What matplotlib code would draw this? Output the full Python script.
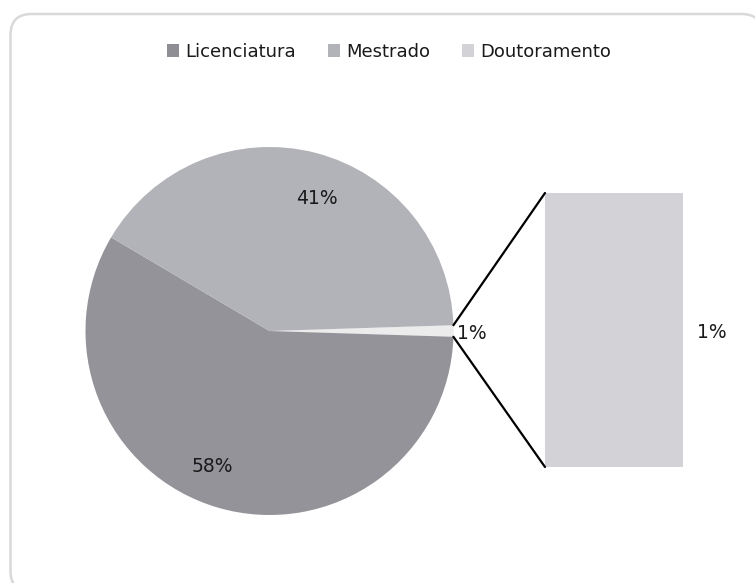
import matplotlib
matplotlib.use("Agg")
import matplotlib.pyplot as plt
from matplotlib.patches import FancyBboxPatch, ConnectionPatch, Patch
import numpy as np

plt.rcParams['font.family'] = ['DejaVu Sans']

# Data
categories = ["Licenciatura", "Mestrado", "Doutoramento"]
values = [58, 41, 1]
pie_colors = ["#939399", "#b2b2b9", "#ececec"]
legend_colors = ["#8e8e94", "#b2b2b9", "#d2d2d7"]
bar_color = "#d2d2d7"

W, H = 755, 583
fig = plt.figure(figsize=(W / 100, H / 100), dpi=100)

def px_axes(x0, y0, x1, y1):
    return fig.add_axes([x0 / W, 1 - y1 / H, (x1 - x0) / W, (y1 - y0) / H])

# Outer rounded frame (right/bottom edges fall just outside the image)
frame_ax = fig.add_axes([0, 0, 1, 1])
frame_ax.set_xlim(0, W)
frame_ax.set_ylim(H, 0)
frame_ax.axis("off")
frame_ax.add_patch(FancyBboxPatch((10.5, 14), 752, 578,
                                  boxstyle="round,pad=0,rounding_size=21",
                                  fc="white", ec="#d9d9d9", lw=1.8))

# Pie: Doutoramento centered at 0 deg, others clockwise
order = [2, 0, 1]
pie_vals = [values[i] for i in order]
pie_cols = [pie_colors[i] for i in order]
half = values[2] / sum(values) * 360 / 2

pie_ax = px_axes(85.5, 147, 453.5, 515)
wedges, _ = pie_ax.pie(pie_vals, colors=pie_cols, startangle=half,
                       counterclock=False, radius=1,
                       wedgeprops=dict(linewidth=0))
pie_ax.set_xlim(-1, 1)
pie_ax.set_ylim(-1, 1)
pie_ax.set_aspect("equal")
pie_ax.axis("off")

# Percentage labels
label_pos = {0: (-0.31, -0.737), 1: (0.257, 0.721), 2: (1.10, -0.016)}
for i in range(3):
    x, y = label_pos[i]
    pie_ax.text(x, y, f"{values[i]}%", ha="center", va="center",
                fontsize=13.5, color="#1a1a1a", clip_on=False)

# Bar of the "other" slice
bar_ax = px_axes(545, 193, 683, 467)
bar_ax.bar([0], [values[2]], width=1, color=bar_color, linewidth=0)
bar_ax.set_xlim(-0.5, 0.5)
bar_ax.set_ylim(0, values[2])
bar_ax.axis("off")
bar_ax.text(1.21, 0.49, f"{values[2]}%", transform=bar_ax.transAxes,
            ha="center", va="center", fontsize=13.5, color="#1a1a1a")

# Connector lines
a = np.deg2rad(half)
for ang, yb in [(a, 1), (-a, 0)]:
    con = ConnectionPatch(xyA=(np.cos(ang), np.sin(ang)), coordsA=pie_ax.transData,
                          xyB=(0, yb), coordsB=bar_ax.transAxes,
                          color="black", lw=1.6)
    fig.add_artist(con)

# Legend
handles = [Patch(facecolor=c, edgecolor="none") for c in legend_colors]
fig.legend(handles, categories, loc="center", bbox_to_anchor=(389 / W, 1 - 52 / H),
           ncol=3, frameon=False, fontsize=13, handlelength=0.7, handleheight=0.7,
           handletextpad=0.33, columnspacing=1.75, labelcolor="#1a1a1a")

fig.savefig("out.png", dpi=100)
